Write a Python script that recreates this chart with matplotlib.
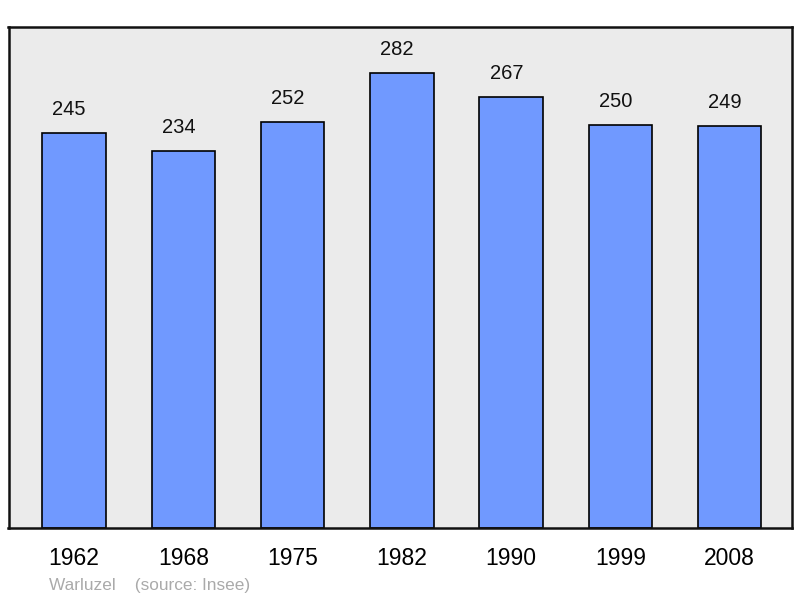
import numpy as np
import matplotlib.pyplot as plt

plt.rcParams['font.family'] = ['Liberation Sans', 'DejaVu Sans']

years = ['1962', '1968', '1975', '1982', '1990', '1999', '2008']
population = [245, 234, 252, 282, 267, 250, 249]

W, H = 800, 598
fig = plt.figure(figsize=(W / 100, H / 100), dpi=100)
ax = fig.add_axes([8.5 / W, (H - 528) / H, 783.5 / W, 501 / H])
ax.set_facecolor('#ebebeb')

x = np.arange(len(years))
ax.bar(x, population, width=0.58, color='#7099ff', edgecolor='black', linewidth=1.2, zorder=2)
for xi, v in zip(x, population):
    ax.annotate(str(v), (xi, v), xytext=(-3.5, 10), textcoords='offset points',
                ha='center', va='bottom', fontsize=14.5, color='#111111')

ax.set_xlim(-0.6, 6.57)
ax.set_ylim(0, 310.6)
ax.set_yticks([])
ax.set_xticks(x)
ax.set_xticklabels(years, fontsize=16.5)
ax.tick_params(axis='x', length=0, pad=14)
for s in ax.spines.values():
    s.set_linewidth(1.8)
    s.set_color('#111111')

fig.text(49 / W, 1 - 590 / H, 'Warluzel    (source: Insee)', fontsize=12.4,
         color='#aaaaaa', ha='left', va='baseline')

fig.savefig('out.png', dpi=100)
